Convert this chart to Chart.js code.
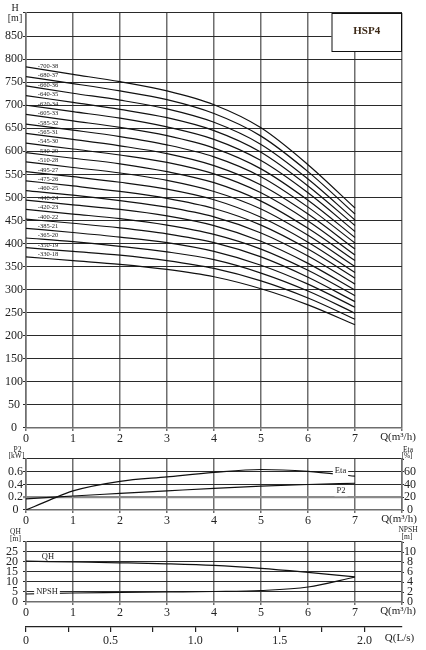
<!DOCTYPE html>
<html>
<head>
<meta charset="utf-8">
<script src="https://cdn.jsdelivr.net/npm/chart.js@4/dist/chart.umd.min.js"></script>
<style>
  html, body { margin: 0; padding: 0; background: #fff; }
  #wrap { position: relative; width: 426px; height: 650px; overflow: hidden; background: #fff; }
  .panel { position: absolute; left: 0; width: 426px; }
</style>
</head>
<body>
<div id="wrap">
  <div class="panel" style="top:0;height:446px"><canvas id="cH"></canvas></div>
  <div class="panel" style="top:440px;height:90px"><canvas id="cP"></canvas></div>
  <div class="panel" style="top:525px;height:95px"><canvas id="cQ"></canvas></div>
  <div class="panel" style="top:620px;height:30px"><canvas id="cL"></canvas></div>
</div>
<script>
// HSP4 performance curves: H-Q per stage count, P2/Eta, QH/NPSH, L/s scale

const Q = [0, 1, 2, 3, 4, 5, 6, 7];   // m3/h

// curve labels, bottom (18 stages) to top (38 stages)
const stageLabels = [
  '-330-18', '-350-19', '-365-20', '-385-21', '-400-22', '-420-23', '-440-24',
  '-460-25', '-475-26', '-495-27', '-510-28', '-530-29', '-545-30', '-565-31',
  '-585-32', '-605-33', '-620-34', '-640-35', '-660-36', '-680-37', '-700-38'
];

// head [m] at Q = 0..7, same order as stageLabels
const H = [
  [371, 363, 355, 344, 328, 302, 267, 224],
  [391, 383, 375, 363, 346, 319, 282, 236],
  [412, 404, 394, 382, 365, 336, 297, 249],
  [433, 424, 414, 402, 383, 353, 312, 262],
  [453, 444, 434, 421, 402, 371, 327, 274],
  [474, 464, 454, 440, 420, 388, 342, 287],
  [494, 484, 474, 460, 439, 405, 357, 299],
  [515, 505, 493, 479, 458, 423, 373, 312],
  [536, 525, 513, 498, 476, 440, 388, 325],
  [556, 545, 533, 518, 495, 457, 403, 337],
  [577, 565, 553, 537, 513, 475, 418, 350],
  [597, 585, 573, 556, 532, 492, 433, 363],
  [618, 605, 592, 576, 551, 510, 449, 375],
  [639, 626, 612, 595, 569, 527, 464, 388],
  [659, 646, 632, 614, 588, 545, 479, 401],
  [680, 666, 652, 634, 607, 562, 494, 413],
  [700, 686, 672, 653, 626, 580, 510, 426],
  [721, 706, 691, 673, 645, 598, 525, 439],
  [742, 726, 711, 692, 663, 615, 540, 451],
  [762, 747, 731, 712, 682, 633, 556, 464],
  [783, 767, 751, 731, 701, 651, 571, 477]
];

const p2 = [0.175, 0.22, 0.26, 0.30, 0.34, 0.375, 0.40, 0.42];   // kW at Q
const etaQ = [0, 0.5, 1, 2, 3, 4, 5, 6, 7];
const eta = [0, 15.5, 30, 45, 52, 59, 63.5, 60.5, 53];           // %

const qh = [20.4, 20.0, 19.6, 19.1, 18.3, 16.8, 14.8, 12.6];     // m per stage
const npsh = [1.6, 1.8, 1.9, 2.0, 2.1, 2.3, 3.0, 5.0];           // m

const SERIF = '"Liberation Serif", "DejaVu Serif", serif';
const TXT = '#222', GRID_V = '#6e6e6e', GRID_H = '#2a2a2a', LINE = '#111';

function fixW(w) { return s => { s.width = w; }; }
function fixH(h) { return s => { s.height = h; }; }
function pts(xs, ys) { return ys.map((y, i) => ({ x: xs[i], y: y })); }

function curve(label, data, axis) {
  return {
    label: label, data: data, yAxisID: axis || 'y',
    borderColor: LINE, borderWidth: 1.2, pointRadius: 0,
    cubicInterpolationMode: 'monotone', fill: false
  };
}

function text(ctx, s, x, y, size, opts) {
  opts = opts || {};
  ctx.save();
  ctx.font = (opts.bold ? 'bold ' : '') + size + 'px ' + SERIF;
  ctx.textAlign = opts.align || 'center';
  ctx.textBaseline = 'middle';
  if (opts.bg) {
    const w = ctx.measureText(s).width;
    const x0 = ctx.textAlign === 'left' ? x : x - w / 2;
    ctx.fillStyle = '#fff';
    ctx.fillRect(x0 - 2, y - size / 2 - 1, w + 4, size + 2);
  }
  ctx.fillStyle = opts.color || TXT;
  ctx.fillText(s, x, y);
  ctx.restore();
}

const qAxis = (h) => ({
  type: 'linear', min: 0, max: 8, afterFit: fixH(h),
  grid: { color: GRID_V, lineWidth: 1.5, tickLength: 3 },
  border: { color: GRID_V, width: 1.5 },
  ticks: {
    stepSize: 1, autoSkip: false, maxRotation: 0, padding: 1,
    color: TXT, font: { family: SERIF, size: 12 },
    callback: v => v === 8 ? '' : v
  }
});

const base = {
  responsive: true, maintainAspectRatio: false, animation: false,
  plugins: { legend: { display: false }, tooltip: { enabled: false } }
};

// ---- main H-Q chart
const mainLabels = {
  id: 'mainLabels',
  afterDraw(chart) {
    const ctx = chart.ctx, xs = chart.scales.x, ys = chart.scales.y;
    const xl = xs.getPixelForValue(0.25);
    chart.data.datasets.forEach(ds => {
      const a = ds.data[0].y, b = ds.data[1].y;
      const y = ys.getPixelForValue(a + (b - a) * 0.45);
      text(ctx, ds.label, xl, y - 4, 6.5, { align: 'left' });
    });
    text(ctx, 'H', 15, 8, 10);
    text(ctx, '[m]', 15, 18, 10);
    text(ctx, 'Q(m³/h)', 398, 437, 11);
    // model box
    const bx = xs.getPixelForValue(6.5), by = chart.chartArea.top;
    const bw = chart.chartArea.right - bx, bh = 38;
    ctx.save();
    ctx.fillStyle = '#fff';
    ctx.fillRect(bx, by, bw, bh);
    ctx.strokeStyle = '#111';
    ctx.lineWidth = 1;
    ctx.strokeRect(bx + 0.5, by + 0.5, bw - 1, bh);
    ctx.restore();
    text(ctx, 'HSP4', bx + bw / 2, by + 18, 11, { bold: true, color: '#3d2a18' });
  }
};

new Chart(document.getElementById('cH'), {
  type: 'line',
  data: { datasets: H.map((row, i) => curve(stageLabels[i], pts(Q, row))) },
  options: Object.assign({}, base, {
    layout: { padding: { top: 13, right: 24 } },
    scales: {
      x: qAxis(18),
      y: {
        min: 0, max: 900, afterFit: fixW(26),
        grid: { color: GRID_H, lineWidth: 1.1, tickLength: 3 },
        border: { color: GRID_V, width: 1.5 },
        ticks: {
          stepSize: 50, autoSkip: false, crossAlign: 'center', padding: 0,
          color: TXT, font: { family: SERIF, size: 12 },
          callback: v => v === 900 ? '' : v
        }
      }
    }
  }),
  plugins: [mainLabels]
});

// ---- P2 / Eta
const p2Labels = {
  id: 'p2Labels',
  afterDraw(chart) {
    const ctx = chart.ctx;
    text(ctx, 'P2', 17.5, 10.5, 7.5);
    text(ctx, '[kW]', 16.5, 16.5, 7.5);
    text(ctx, 'Eta', 408, 10, 7.5);
    text(ctx, '[%]', 407, 16, 7.5);
    text(ctx, 'Eta', 340.5, 31, 8.5, { bg: true });
    text(ctx, 'P2', 341, 51, 8.5, { bg: true });
    text(ctx, 'Q(m³/h)', 399, 79, 11);
  }
};

new Chart(document.getElementById('cP'), {
  type: 'line',
  data: { datasets: [curve('P2', pts(Q, p2), 'y'), curve('Eta', pts(etaQ, eta), 'y1')] },
  options: Object.assign({}, base, {
    layout: { padding: { top: 19 } },
    scales: {
      x: qAxis(20),
      y: {
        min: 0, max: 0.8, afterFit: fixW(26),
        grid: {
          tickLength: 3,
          color: c => Math.abs(c.tick.value - 0.2) < 1e-6 ? '#8a8a8a' : GRID_H,
          lineWidth: c => Math.abs(c.tick.value - 0.2) < 1e-6 ? 2.2 : 1.1
        },
        border: { color: GRID_V, width: 1.5 },
        ticks: {
          stepSize: 0.2, autoSkip: false, crossAlign: 'center', padding: 0,
          color: TXT, font: { family: SERIF, size: 12 },
          callback: v => v > 0.79 ? '' : (v === 0 ? '0' : v.toFixed(1))
        }
      },
      y1: {
        position: 'right', min: 0, max: 80, afterFit: fixW(24),
        grid: { drawOnChartArea: false, color: GRID_H, tickLength: 2 },
        border: { color: GRID_V, width: 1.5 },
        ticks: {
          stepSize: 20, autoSkip: false, crossAlign: 'center', padding: 0,
          color: TXT, font: { family: SERIF, size: 12 },
          callback: v => v === 80 ? '' : v
        }
      }
    }
  }),
  plugins: [p2Labels]
});

// ---- QH / NPSH
const qhLabels = {
  id: 'qhLabels',
  afterDraw(chart) {
    const ctx = chart.ctx;
    text(ctx, 'QH', 15.5, 7, 7.5);
    text(ctx, '[m]', 15.5, 14, 7.5);
    text(ctx, 'NPSH', 408, 5, 7.5);
    text(ctx, '[m]', 407, 12, 7.5);
    text(ctx, 'QH', 48, 32, 8.5);
    text(ctx, 'NPSH', 47, 67, 8.5, { bg: true });
    text(ctx, 'Q(m³/h)', 398, 86, 11);
  }
};

new Chart(document.getElementById('cQ'), {
  type: 'line',
  data: { datasets: [curve('QH', pts(Q, qh), 'y'), curve('NPSH', pts(Q, npsh), 'y1')] },
  options: Object.assign({}, base, {
    layout: { padding: { top: 17 } },
    scales: {
      x: qAxis(18),
      y: {
        min: 0, max: 30, afterFit: fixW(26),
        grid: { color: GRID_H, lineWidth: 1.1, tickLength: 3 },
        border: { color: GRID_V, width: 1.5 },
        ticks: {
          stepSize: 5, autoSkip: false, padding: 5,
          color: TXT, font: { family: SERIF, size: 12 },
          callback: v => v === 30 ? '' : v
        }
      },
      y1: {
        position: 'right', min: 0, max: 12, afterFit: fixW(24),
        grid: { drawOnChartArea: false, color: GRID_H, tickLength: 2 },
        border: { color: GRID_V, width: 1.5 },
        ticks: {
          stepSize: 2, autoSkip: false, crossAlign: 'center', padding: 0,
          color: TXT, font: { family: SERIF, size: 12 },
          callback: v => v === 12 ? '' : v
        }
      }
    }
  }),
  plugins: [qhLabels]
});

// ---- flow in L/s
const lsLabels = {
  id: 'lsLabels',
  afterDraw(chart) { text(chart.ctx, 'Q(L/s)', 399.5, 18, 11); }
};

new Chart(document.getElementById('cL'), {
  type: 'line',
  data: { datasets: [] },
  options: Object.assign({}, base, {
    layout: { padding: { top: 0, left: 26, right: 24 } },
    scales: {
      x: {
        type: 'linear', min: 0, max: 8 / 3.6, afterFit: fixH(23),
        grid: { drawOnChartArea: false, color: '#222', tickLength: 5, lineWidth: 1.2 },
        border: { color: '#222', width: 1.2 },
        ticks: {
          stepSize: 0.25, includeBounds: false, autoSkip: false, maxRotation: 0, padding: 2,
          color: TXT, font: { family: SERIF, size: 12 },
          callback: v => {
            const k = Math.round(v * 100);
            if (k % 50 !== 0) return '';
            return k === 0 ? '0' : (k / 100).toFixed(1);
          }
        }
      },
      y: { display: false }
    }
  }),
  plugins: [lsLabels]
});
</script>
</body>
</html>
